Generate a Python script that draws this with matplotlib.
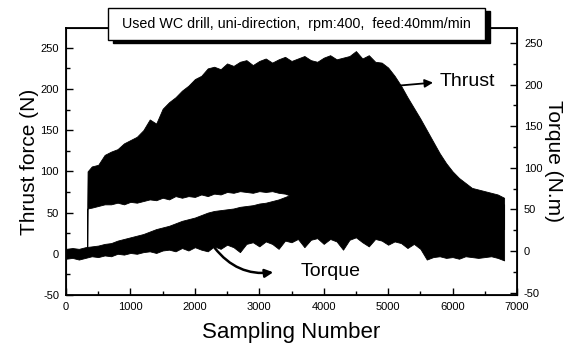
import numpy as np
import matplotlib
matplotlib.use("Agg")
import matplotlib.pyplot as plt
from matplotlib.patches import Rectangle
from matplotlib.ticker import MultipleLocator

plt.rcParams['font.family'] = ['Liberation Sans', 'DejaVu Sans']
plt.rcParams['axes.unicode_minus'] = False

# thrust band (N), envelope
thrust_x = [330, 335] + list(range(400, 6801, 100))
thrust_hi = [60, 100, 106, 108, 120, 124, 127, 134, 138, 142, 150, 163, 158, 176, 184, 190,
             198, 204, 212, 216, 225, 227, 224, 231, 228, 233, 235, 229, 234, 237, 232, 236,
             239, 234, 237, 240, 235, 233, 238, 241, 236, 238, 240, 246, 237, 241, 233, 232,
             226, 216, 204, 190, 177, 164, 150, 136, 122, 110, 100, 92, 86, 80, 78, 76,
             74, 72, 68]
thrust_lo = [8, 55, 56, 58, 60, 60, 62, 60, 63, 62, 64, 66, 65, 68, 66, 70,
             68, 70, 69, 72, 70, 73, 72, 75, 74, 76, 75, 74, 76, 75, 76, 74,
             73, 70, 40, 40, 40, 40, 40, 40, 40, 40, 40, 40, 40, 40, 40, 40,
             40, 40, 40, 40, 40, 40, 35, 35, 35, 35, 35, 35, 35, 35, 30, 30,
             30, 30, 30]

# torque band (N.m)
torque_x = list(range(0, 6801, 100))
torque_hi = [6, 7, 6, 8, 9, 10, 12, 13, 16, 18, 20, 22, 24, 27, 30, 32, 34, 37, 40, 42,
             44, 47, 50, 52, 53, 54, 55, 57, 58, 59, 61, 62, 64, 66, 69, 72,
             74, 75, 76, 77, 78, 79, 80, 80, 80, 80, 80, 80, 80, 80, 80, 80, 80,
             78, 76, 74, 72, 70, 68, 66, 65, 64, 63, 62, 61, 60, 60, 60, 60]
torque_lo = [-6, -5, -7, -5, -3, -4, -2, -3, 0, -1, 1, 0, 2, 3, 1, 4, 5, 3, 7, 4,
             8, 5, 3, 9, 6, 11, 8, 2, 12, 14, 9, 15, 12, 6, 16, 14,
             18, 8, 17, 19, 12, 18, 15, 5, 17, 20, 14, 9, 18, 16, 11, 15, 13,
             7, 12, 6, -7, -4, -3, -5, -4, -6, -3, -4, -5, -4, -3, -5, -8]

title = "Used WC drill, uni-direction,  rpm:400,  feed:40mm/min"

W, H = 572, 351
fig = plt.figure(figsize=(W / 100, H / 100), dpi=100)
ax = fig.add_axes([66 / W, 1 - 295 / H, (517 - 66) / W, (295 - 28) / H])

ax.fill_between(torque_x, torque_lo, torque_hi, color='black', lw=0.6)
ax.fill_between(thrust_x, thrust_lo, thrust_hi, color='black', lw=0.6)

ax.set_xlim(0, 7000)
ax.set_ylim(-50, 274)
ax.xaxis.set_major_locator(MultipleLocator(1000))
ax.xaxis.set_minor_locator(MultipleLocator(500))
ax.yaxis.set_major_locator(MultipleLocator(50))
ax.yaxis.set_minor_locator(MultipleLocator(25))
ax.tick_params(which='both', direction='in', top=False, right=False, labelsize=8, pad=5)
ax.tick_params(which='major', length=5, width=1)
ax.tick_params(which='minor', length=3, width=1)
for s in ax.spines.values():
    s.set_linewidth(1.3)

ax.set_xlabel("Sampling Number", fontsize=16, labelpad=7)
ax.set_ylabel("Thrust force (N)", fontsize=15, labelpad=1)

ax2 = ax.twinx()
ax2.set_ylim(-53, 268)
ax2.yaxis.set_major_locator(MultipleLocator(50))
ax2.yaxis.set_minor_locator(MultipleLocator(25))
ax2.tick_params(which='both', direction='in', labelsize=8, pad=5)
ax2.tick_params(which='major', length=5, width=1)
ax2.tick_params(which='minor', length=3, width=1)
ax2.set_ylabel("Torque (N.m)", fontsize=15, rotation=270, labelpad=15)

# annotations
ax.annotate("", xy=(5740, 208), xytext=(5150, 204),
            arrowprops=dict(arrowstyle='-|>', color='black', lw=1.3, mutation_scale=12))
ax.text(5800, 209, "Thrust", fontsize=14, va='center', ha='left')
ax.annotate("", xy=(3260, -22), xytext=(2280, 10),
            arrowprops=dict(arrowstyle='-|>', color='black', lw=1.8, mutation_scale=12,
                            connectionstyle='arc3,rad=0.3'))
ax.text(3640, -22, "Torque", fontsize=14, va='center', ha='left')

# title box with shadow
bx0, bx1, by0, by1 = 108, 485, 8, 40
fig.patches.append(Rectangle(((bx0 + 5) / W, 1 - (by1 + 3) / H), (bx1 - bx0) / W, (by1 - by0) / H,
                             transform=fig.transFigure, facecolor='black', edgecolor='black', zorder=5))
fig.patches.append(Rectangle((bx0 / W, 1 - by1 / H), (bx1 - bx0) / W, (by1 - by0) / H,
                             transform=fig.transFigure, facecolor='white', edgecolor='black',
                             lw=1, zorder=6))
fig.text((bx0 + bx1) / 2 / W, 1 - (by0 + by1) / 2 / H, title, fontsize=10.3,
         ha='center', va='center', zorder=7)

fig.savefig("out.png", dpi=100)
